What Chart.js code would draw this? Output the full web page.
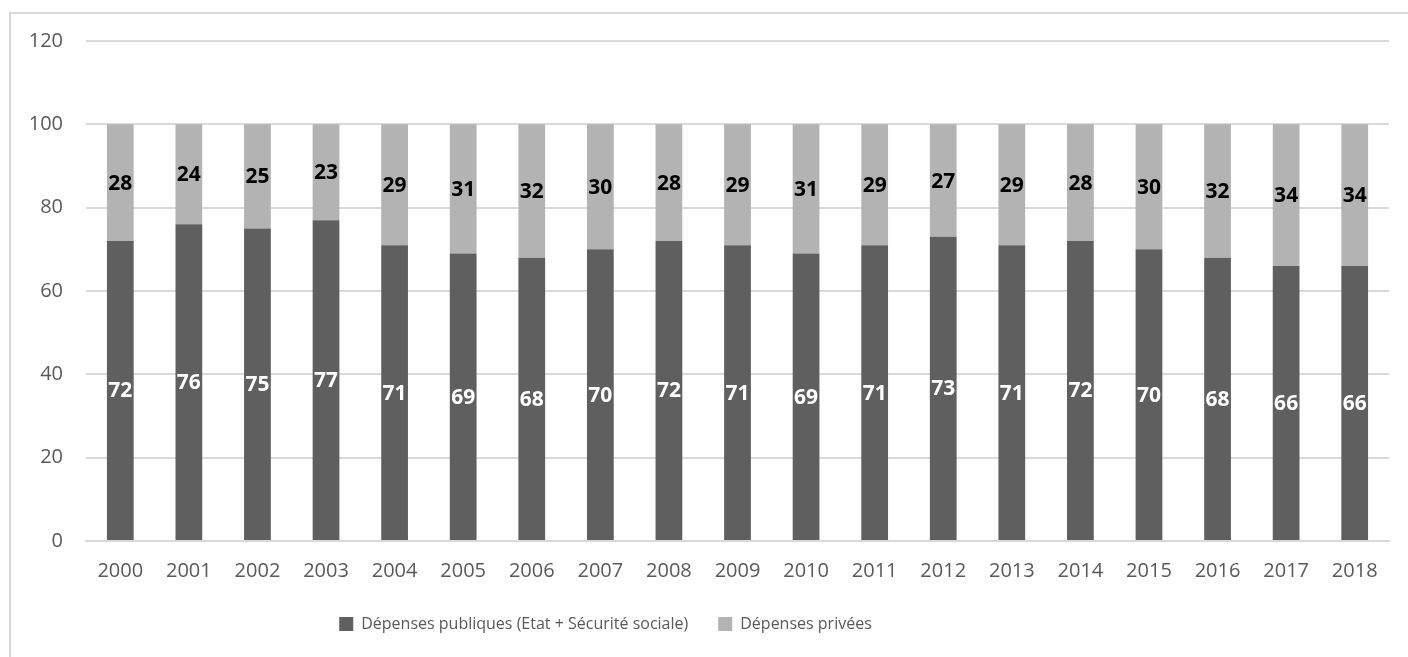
<!DOCTYPE html>
<html>
<head>
<meta charset="utf-8">
<script src="https://cdn.jsdelivr.net/npm/chart.js@4"></script>
<style>
  html, body { margin: 0; padding: 0; background: #fff; overflow: hidden; }
  #frame { position: absolute; left: 9px; top: 12px; width: 1410px; height: 660px;
           border-left: 2px solid #d9d9d9; border-top: 2px solid #d9d9d9; }
  #wrap { position: absolute; left: 0; top: 0; width: 1408px; height: 657px; }
</style>
</head>
<body>
<div id="frame"></div>
<div id="wrap"><canvas id="chart"></canvas></div>
<script>
const years = ['2000', '2001', '2002', '2003', '2004', '2005', '2006', '2007', '2008', '2009',
               '2010', '2011', '2012', '2013', '2014', '2015', '2016', '2017', '2018'];
const publicSpending = [72, 76, 75, 77, 71, 69, 68, 70, 72, 71, 69, 71, 73, 71, 72, 70, 68, 66, 66];
const privateSpending = [28, 24, 25, 23, 29, 31, 32, 30, 28, 29, 31, 29, 27, 29, 28, 30, 32, 34, 34];
const yTicks = [0, 20, 40, 60, 80, 100, 120];

const fontFamily = "'Open Sans', 'Noto Sans', sans-serif";

// labels in the middle of each segment
const segmentLabels = {
  id: 'segmentLabels',
  afterDatasetsDraw(chart) {
    const ctx = chart.ctx;
    ctx.save();
    ctx.font = `bold 21px ${fontFamily}`;
    ctx.textAlign = 'center';
    ctx.textBaseline = 'middle';
    chart.data.datasets.forEach((ds, i) => {
      const meta = chart.getDatasetMeta(i);
      ctx.fillStyle = i === 0 ? '#ffffff' : '#000000';
      meta.data.forEach((bar, j) => {
        const y = (bar.y + bar.base) / 2;
        ctx.fillText(String(ds.data[j]), bar.x, y + 1);
      });
    });
    ctx.restore();
  }
};

// the legend sits a bit left of centre in the original
const legendShift = {
  id: 'legendShift',
  afterLayout(chart) {
    chart.legend.left -= 89;
    chart.legend.right -= 89;
  }
};

new Chart(document.getElementById('chart'), {
  type: 'bar',
  data: {
    labels: years,
    datasets: [
      {
        label: 'Dépenses publiques (Etat + Sécurité sociale)',
        data: publicSpending,
        backgroundColor: '#5f5f5f'
      },
      {
        label: 'Dépenses privées',
        data: privateSpending,
        backgroundColor: '#b3b3b3'
      }
    ]
  },
  options: {
    responsive: true,
    maintainAspectRatio: false,
    animation: false,
    layout: { padding: { top: 41, right: 19, bottom: 15, left: 0 } },
    datasets: { bar: { categoryPercentage: 1, barPercentage: 0.39 } },
    scales: {
      x: {
        stacked: true,
        afterFit: (scale) => { scale.height = 45; },
        grid: { display: false, drawTicks: false },
        border: { display: true, color: '#d9d9d9', width: 2 },
        ticks: { color: '#595959', font: { family: fontFamily, size: 20 }, padding: 18, maxRotation: 0 }
      },
      y: {
        stacked: true,
        min: 0,
        max: 120,
        afterBuildTicks: (scale) => { scale.ticks = yTicks.map(v => ({ value: v })); },
        afterFit: (scale) => { scale.width = 86; },
        grid: { color: '#d9d9d9', lineWidth: 2, drawTicks: false },
        border: { display: false },
        ticks: { color: '#595959', font: { family: fontFamily, size: 20 }, padding: 23 }
      }
    },
    plugins: {
      legend: {
        position: 'bottom',
        labels: {
          color: '#595959',
          font: { family: fontFamily, size: 16 },
          boxWidth: 14,
          boxHeight: 14,
          padding: 30
        }
      },
      tooltip: { enabled: false }
    }
  },
  plugins: [segmentLabels, legendShift]
});
</script>
</body>
</html>
